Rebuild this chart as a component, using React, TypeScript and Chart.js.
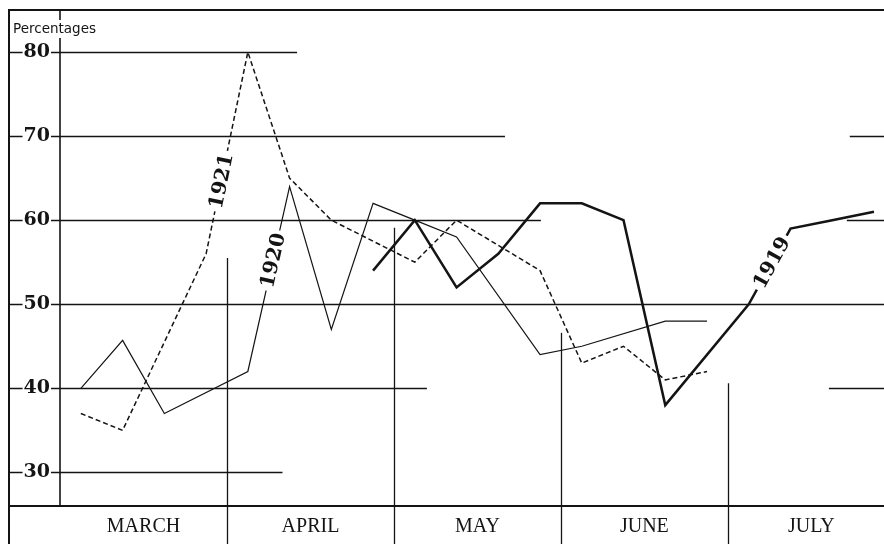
import React, { useEffect, useRef } from 'react';
import { Chart, registerables } from 'chart.js';

Chart.register(...registerables);

// ---- data ----
const MONTHS = ['MARCH', 'APRIL', 'MAY', 'JUNE', 'JULY'];
const WEEKS_PER_MONTH = 4;
const Y_TICKS = [30, 40, 50, 60, 70, 80];
const Y_TITLE = 'Percentages';

const S1919 = [null, null, null, null, null, null, null, 54, 60, 52, 56, 62, 62, 60, 38, null, 50, 59, 60, 61];
const S1920 = [40, 45.7, 37, null, 42, 64, 47, 62, 60, 58, null, 44, 45, null, 48, 48, null, null, null, null];
const S1921 = [37, 35, null, 56, 80, 65, 60, null, 55, 60, null, 54, 43, 45, 41, 42, null, null, null, null];

const NAME_1919 = '1919';
const NAME_1920 = '1920';
const NAME_1921 = '1921';

// ---- decoration (layout, in data units) ----
const X_MIN = -0.5;
const X_MAX = 19.24;
const Y_MIN = 26;
const Y_MAX = 85;
// [y value, from week, to week]
const GRID_SEGMENTS: [number, number, number][] = [
  [80, X_MIN, 5.18],
  [70, X_MIN, 10.16],
  [70, 18.42, X_MAX],
  [60, X_MIN, 11.02],
  [60, 18.35, X_MAX],
  [50, X_MIN, X_MAX],
  [40, X_MIN, 8.29],
  [40, 17.92, X_MAX],
  [30, X_MIN, 4.83],
];
const DIVIDER_TOPS = [55.5, 59.1, 46.6, 40.6];

const INK = '#141414';

type Pt = number | null;
const toXY = (arr: Pt[]) => arr.map((v, i) => ({ x: i, y: v }));

const LINE_LABELS = [
  { text: NAME_1921, series: S1921, from: 3, to: 4, t: 0.36 },
  { text: NAME_1920, series: S1920, from: 4, to: 5, t: 0.6 },
  { text: NAME_1919, series: S1919, from: 16, to: 17, t: 0.55 },
];

const decorPlugin = {
  id: 'decor',
  beforeDraw(chart: any) {
    const { ctx, chartArea, scales } = chart;
    const xs = scales.x;
    const ys = scales.y;
    const W = chart.width;
    const H = chart.height;
    ctx.save();
    ctx.strokeStyle = INK;
    ctx.lineCap = 'butt';

    // frame
    ctx.lineWidth = 2;
    ctx.beginPath();
    ctx.moveTo(9, H);
    ctx.lineTo(9, chartArea.top);
    ctx.lineTo(W, chartArea.top);
    ctx.stroke();
    ctx.beginPath();
    ctx.moveTo(9, chartArea.bottom);
    ctx.lineTo(W, chartArea.bottom);
    ctx.stroke();
    ctx.lineWidth = 1.6;
    ctx.beginPath();
    ctx.moveTo(chartArea.left, chartArea.top);
    ctx.lineTo(chartArea.left, chartArea.bottom);
    ctx.stroke();

    // partial grid lines
    ctx.lineWidth = 1.6;
    for (const [v, a, b] of GRID_SEGMENTS) {
      const y = Math.round(ys.getPixelForValue(v)) + 0.5;
      ctx.beginPath();
      ctx.moveTo(xs.getPixelForValue(a), y);
      ctx.lineTo(xs.getPixelForValue(b), y);
      ctx.stroke();
    }
    // tick lines on the label column
    for (const v of Y_TICKS) {
      const y = Math.round(ys.getPixelForValue(v)) + 0.5;
      ctx.beginPath();
      ctx.moveTo(10, y);
      ctx.lineTo(chartArea.left, y);
      ctx.stroke();
    }
    // month dividers
    ctx.lineWidth = 1.3;
    DIVIDER_TOPS.forEach((top, k) => {
      const x = Math.round(xs.getPixelForValue((k + 1) * WEEKS_PER_MONTH - 0.5)) + 0.5;
      ctx.beginPath();
      ctx.moveTo(x, ys.getPixelForValue(top));
      ctx.lineTo(x, H);
      ctx.stroke();
    });

    // axis title
    ctx.font = '13.5px "DejaVu Sans"';
    const tw = ctx.measureText(Y_TITLE).width;
    ctx.fillStyle = '#fff';
    ctx.fillRect(12, 20, tw + 4, 18);
    ctx.fillStyle = INK;
    ctx.textBaseline = 'middle';
    ctx.textAlign = 'left';
    ctx.fillText(Y_TITLE, 13, 29.5);
    ctx.restore();
  },
  afterDatasetsDraw(chart: any) {
    const { ctx, scales } = chart;
    const xs = scales.x;
    const ys = scales.y;
    ctx.save();
    ctx.font = 'bold 20px "DejaVu Serif"';
    ctx.textAlign = 'center';
    ctx.textBaseline = 'middle';
    for (const L of LINE_LABELS) {
      const x1 = xs.getPixelForValue(L.from);
      const y1 = ys.getPixelForValue(L.series[L.from] as number);
      const x2 = xs.getPixelForValue(L.to);
      const y2 = ys.getPixelForValue(L.series[L.to] as number);
      const cx = x1 + (x2 - x1) * L.t;
      const cy = y1 + (y2 - y1) * L.t;
      const ang = Math.atan2(y2 - y1, x2 - x1);
      const w = ctx.measureText(L.text).width;
      ctx.save();
      ctx.translate(cx, cy);
      ctx.rotate(ang);
      ctx.fillStyle = '#fff';
      ctx.fillRect(-w / 2 - 3, -8, w + 6, 16);
      ctx.fillStyle = INK;
      ctx.fillText(L.text, 0, 1);
      ctx.restore();
    }
    ctx.restore();
  },
};

export default function App() {
  const ref = useRef<HTMLCanvasElement>(null);
  useEffect(() => {
    const canvas = ref.current;
    if (!canvas) return;
    const chart = new Chart(canvas, {
      type: 'line',
      data: {
        datasets: [
          {
            label: NAME_1921,
            data: toXY(S1921),
            borderColor: INK,
            borderWidth: 1.5,
            borderDash: [5, 3],
            pointRadius: 0,
            spanGaps: true,
            tension: 0,
            fill: false,
          },
          {
            label: NAME_1920,
            data: toXY(S1920),
            borderColor: INK,
            borderWidth: 1.2,
            pointRadius: 0,
            spanGaps: true,
            tension: 0,
            fill: false,
          },
          {
            label: NAME_1919,
            data: toXY(S1919),
            borderColor: INK,
            borderWidth: 2.5,
            pointRadius: 0,
            spanGaps: true,
            tension: 0,
            fill: false,
          },
        ],
      } as any,
      options: {
        responsive: false,
        animation: false,
        devicePixelRatio: 1,
        layout: { padding: { top: 10, left: 0, right: 0, bottom: 0 } },
        plugins: { legend: { display: false }, tooltip: { enabled: false } },
        scales: {
          x: {
            type: 'linear',
            min: X_MIN,
            max: X_MAX,
            grid: { display: false, drawTicks: false },
            border: { display: false },
            afterFit: (s: any) => {
              s.height = 38;
              s.paddingLeft = 0;
              s.paddingRight = 0;
            },
            afterBuildTicks: (s: any) => {
              s.ticks = MONTHS.map((_, k) => ({ value: k * WEEKS_PER_MONTH + 1.5 }));
            },
            ticks: {
              autoSkip: false,
              maxRotation: 0,
              minRotation: 0,
              padding: 9,
              color: INK,
              font: { family: '"Liberation Serif"', size: 20 },
              callback: (_v: any, i: number) => MONTHS[i],
            },
          },
          y: {
            type: 'linear',
            min: Y_MIN,
            max: Y_MAX,
            grid: { display: false, drawTicks: false },
            border: { display: false },
            afterFit: (s: any) => {
              s.width = 60;
              s.paddingTop = 0;
              s.paddingBottom = 0;
            },
            afterBuildTicks: (s: any) => {
              s.ticks = Y_TICKS.map((v) => ({ value: v }));
            },
            ticks: {
              padding: 10,
              color: INK,
              font: { family: '"DejaVu Serif"', size: 19, weight: 'bold' },
              showLabelBackdrop: true,
              backdropColor: '#fff',
              backdropPadding: { top: 0, bottom: 0, left: 1, right: 1 },
            },
          },
        },
      } as any,
      plugins: [decorPlugin],
    });
    return () => chart.destroy();
  }, []);
  return (
    <div style={{ position: 'fixed', left: 0, top: 0, width: 884, height: 544, background: '#fff' }}>
      <canvas ref={ref} width={884} height={544} />
    </div>
  );
}
